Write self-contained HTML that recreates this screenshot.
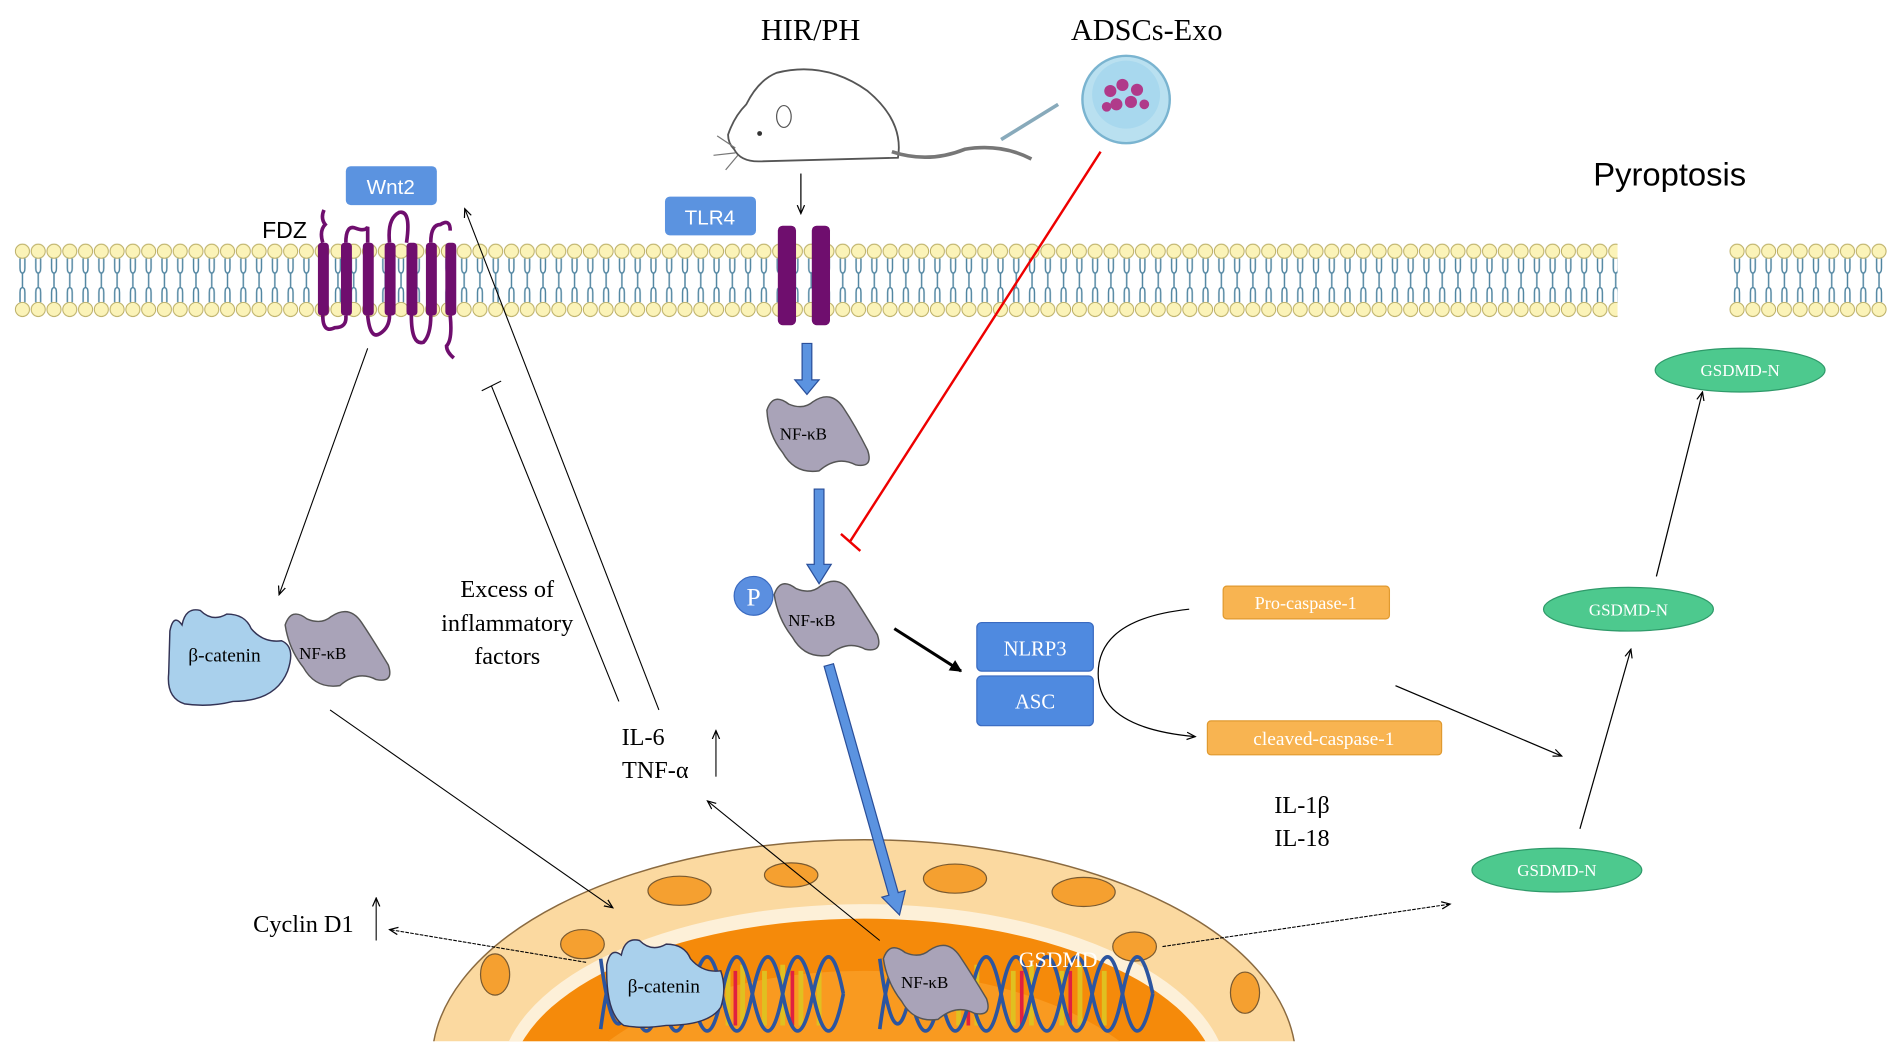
<!DOCTYPE html>
<html><head><meta charset="utf-8"><style>html,body{margin:0;padding:0;background:#fff;overflow:hidden;width:1893px;height:1057px}svg{display:block}</style></head>
<body>
<svg width="1893" height="1057" viewBox="0 0 1560 871" preserveAspectRatio="none" xmlns="http://www.w3.org/2000/svg">
<defs>
<pattern id="mem" x="12" y="198" width="13" height="66" patternUnits="userSpaceOnUse">
<circle cx="6.5" cy="9" r="5.8" fill="#fbf3b8" stroke="#b8ab60" stroke-width="0.8"/>
<circle cx="6.5" cy="57" r="5.8" fill="#fbf3b8" stroke="#b8ab60" stroke-width="0.8"/>
<path d="M4.5,15 v8 q0,4 2,4 q2,0 2,-4 v-8 M4.5,51 v-8 q0,-4 2,-4 q2,0 2,4 v8 M6.5,27 v6 M6.5,39 v-6" fill="none" stroke="#4f84a0" stroke-width="1.2"/>
</pattern>
<pattern id="mem2" x="1425" y="198" width="13" height="66" patternUnits="userSpaceOnUse">
<circle cx="6.5" cy="9" r="5.8" fill="#fbf3b8" stroke="#b8ab60" stroke-width="0.8"/>
<circle cx="6.5" cy="57" r="5.8" fill="#fbf3b8" stroke="#b8ab60" stroke-width="0.8"/>
<path d="M4.5,15 v8 q0,4 2,4 q2,0 2,-4 v-8 M4.5,51 v-8 q0,-4 2,-4 q2,0 2,4 v8 M6.5,27 v6 M6.5,39 v-6" fill="none" stroke="#4f84a0" stroke-width="1.2"/>
</pattern>
<marker id="ah" markerWidth="8" markerHeight="8" refX="7" refY="4" orient="auto" markerUnits="userSpaceOnUse"><path d="M0,1 L7,4 L0,7" fill="none" stroke="#000" stroke-width="1"/></marker>
<marker id="ahb" markerWidth="10" markerHeight="10" refX="9" refY="5" orient="auto" markerUnits="userSpaceOnUse"><path d="M0,0 L10,5 L0,10z" fill="#000"/></marker>
<clipPath id="nclip"><rect x="0" y="0" width="1560" height="858"/></clipPath>
</defs>
<style>text{font-family:"Liberation Serif",serif}.s{font-family:"Liberation Sans",sans-serif}</style>

<rect x="12" y="198" width="1321" height="66" fill="url(#mem)"/>
<rect x="1425" y="198" width="130" height="66" fill="url(#mem2)"/>

<g fill="#6f0e6e">
<rect x="262" y="200" width="9" height="60" rx="3"/><rect x="281" y="200" width="9" height="60" rx="3"/><rect x="299" y="200" width="9" height="60" rx="3"/>
<rect x="317" y="200" width="9" height="60" rx="3"/><rect x="335" y="200" width="9" height="60" rx="3"/><rect x="351" y="200" width="9" height="60" rx="3"/><rect x="367" y="200" width="9" height="60" rx="3"/>
</g>
<path d="M266,200 q-3,-10 2,-15 q-4,-5 -1,-12 M285,200 q0,-15 8,-12 q8,3 10,-1 v13 M303,260 q2,20 10,15 q8,-5 8,-15 M321,200 q-2,-20 8,-25 q10,-2 6,25 M339,260 q0,25 10,22 q6,-6 6,-22 M355,200 q0,-15 8,-15 q8,-5 8,5 M371,260 q2,20 -3,25 q0,5 6,10 M266,260 q0,15 10,10 q10,0 9,-10" fill="none" stroke="#6f0e6e" stroke-width="3"/>
<text x="216" y="196" class="s" font-size="19">FDZ</text>
<rect x="285" y="137" width="75" height="32" rx="4" fill="#5b93e0"/>
<text x="322" y="160" class="s" font-size="17" fill="#fff" text-anchor="middle">Wnt2</text>

<rect x="641" y="186" width="15" height="82" rx="4" fill="#6f0e6e"/>
<rect x="669" y="186" width="15" height="82" rx="4" fill="#6f0e6e"/>
<rect x="548" y="162" width="75" height="32" rx="4" fill="#5b93e0"/>
<text x="585" y="185" class="s" font-size="17" fill="#fff" text-anchor="middle">TLR4</text>

<text x="668" y="33" font-size="25" text-anchor="middle">HIR/PH</text>
<text x="945" y="33" font-size="25" text-anchor="middle">ADSCs-Exo</text>
<text x="1376" y="153" class="s" font-size="27" text-anchor="middle">Pyroptosis</text>

<path d="M640,60 q40,-10 75,15 q30,25 25,55 l-115,3 q-15,0 -20,-10 q-5,-5 -5,-12 q5,-15 15,-25 q10,-20 25,-26z" fill="#fff" stroke="#555" stroke-width="1.5"/>
<path d="M735,125 q30,10 60,-2 q30,-5 55,8" fill="none" stroke="#777" stroke-width="3"/>
<ellipse cx="646" cy="96" rx="6" ry="9" fill="#fff" stroke="#555"/>
<circle cx="626" cy="110" r="2" fill="#333"/>
<path d="M606,122 l-15,-10 M606,126 l-18,2 M608,128 l-10,12" stroke="#777"/>
<circle cx="928" cy="82" r="36" fill="#b9e0f0" stroke="#7ab4d0" stroke-width="2"/>
<circle cx="928" cy="78" r="28" fill="#a8d8ee"/>
<g fill="#b03a8a"><circle cx="915" cy="75" r="5"/><circle cx="925" cy="70" r="5"/><circle cx="937" cy="74" r="5"/><circle cx="920" cy="86" r="5"/><circle cx="932" cy="84" r="5"/><circle cx="943" cy="86" r="4"/><circle cx="912" cy="88" r="4"/></g>
<path d="M825,115 L872,86" stroke="#8ab" stroke-width="3"/>
<path d="M660,143 V176" stroke="#000" marker-end="url(#ah)"/>

<g fill="#5b93e0" stroke="#2a4f9a" stroke-width="1">
<path d="M661,283 h8 v30 h6 l-10,12 l-10,-12 h6z"/>
<path d="M671,403 h8 v62 h6 l-10,16 l-10,-16 h6z"/>
</g>

<path d="M907,125 L700,447 M693,440 L709,454" stroke="#e00" stroke-width="2"/>

<g fill="#a9a3b8" stroke="#555" stroke-width="1.2">
<path d="M632,338 q5,-15 18,-5 q12,5 20,-2 q15,-10 25,5 q10,15 20,35 q5,15 -10,12 q-15,-8 -30,5 q-20,3 -30,-15 q-12,-15 -13,-35z"/>
<path d="M638,490 q5,-15 18,-5 q12,5 20,-2 q15,-10 25,5 q10,15 22,35 q5,15 -10,12 q-15,-8 -30,5 q-20,3 -30,-15 q-12,-15 -15,-35z"/>
<path d="M235,515 q5,-15 18,-5 q12,5 20,-2 q15,-10 25,5 q10,15 22,35 q5,15 -10,12 q-15,-8 -30,5 q-20,3 -30,-15 q-12,-15 -15,-35z"/>
</g>
<text x="662" y="362" font-size="14" text-anchor="middle">NF-κB</text>
<text x="669" y="516" font-size="14" text-anchor="middle">NF-κB</text>
<text x="266" y="543" font-size="14" text-anchor="middle">NF-κB</text>

<circle cx="621" cy="491" r="16" fill="#5b8fe0" stroke="#3a6ac0"/>
<text x="621" y="499" font-size="21" fill="#fff" text-anchor="middle">P</text>

<path d="M140,520 q3,-15 10,-5 q3,-15 15,-12 q10,10 22,3 q15,0 20,12 q10,12 25,10 q12,5 5,25 q-10,25 -45,25 q-20,5 -40,2 q-15,-5 -13,-25z" fill="#a9d0ec" stroke="#335" stroke-width="1.2"/>
<text x="185" y="545" font-size="16" text-anchor="middle">β-catenin</text>

<rect x="805" y="513" width="96" height="40" rx="4" fill="#4f8ae0" stroke="#3a6ac0"/>
<rect x="805" y="557" width="96" height="41" rx="4" fill="#4f8ae0" stroke="#3a6ac0"/>
<text x="853" y="540" font-size="17" fill="#fff" text-anchor="middle">NLRP3</text>
<text x="853" y="584" font-size="17" fill="#fff" text-anchor="middle">ASC</text>
<path d="M737,518 L792,553" stroke="#000" stroke-width="2.5" marker-end="url(#ahb)"/>
<path d="M980,502 Q905,510 905,555 Q905,600 985,607" fill="none" stroke="#000" marker-end="url(#ah)"/>
<rect x="1008" y="483" width="137" height="27" rx="3" fill="#f8b451" stroke="#e09a30"/>
<text x="1076" y="502" font-size="15" fill="#fff" text-anchor="middle">Pro-caspase-1</text>
<rect x="995" y="594" width="193" height="28" rx="3" fill="#f8b451" stroke="#e09a30"/>
<text x="1091" y="614" font-size="16" fill="#fff" text-anchor="middle">cleaved-caspase-1</text>
<path d="M1150,565 L1287,623" stroke="#000" marker-end="url(#ah)"/>
<text x="1073" y="670" font-size="20" text-anchor="middle">IL-1β</text>
<text x="1073" y="697" font-size="20" text-anchor="middle">IL-18</text>

<g fill="#4dc98e" stroke="#2f9a6a"><ellipse cx="1434" cy="305" rx="70" ry="18"/><ellipse cx="1342" cy="502" rx="70" ry="18"/><ellipse cx="1283" cy="717" rx="70" ry="18"/></g>
<g font-size="14" fill="#fff" text-anchor="middle"><text x="1434" y="310">GSDMD-N</text><text x="1342" y="507">GSDMD-N</text><text x="1283" y="722">GSDMD-N</text></g>
<path d="M1302,683 L1344,535" stroke="#000" marker-end="url(#ah)"/>
<path d="M1365,475 L1403,323" stroke="#000" marker-end="url(#ah)"/>

<g clip-path="url(#nclip)">
<ellipse cx="712" cy="875" rx="356" ry="183" fill="#fbd9a0" stroke="#8a6a40" stroke-width="1.2"/>
<ellipse cx="712" cy="890" rx="300" ry="145" fill="#fdf0d8"/>
<ellipse cx="712" cy="895" rx="292" ry="138" fill="#f58a0a"/>
<ellipse cx="712" cy="940" rx="260" ry="140" fill="#f99a20"/>
<g fill="#f5a030" stroke="#7a5a30"><ellipse cx="560" cy="734" rx="26" ry="12"/><ellipse cx="787" cy="724" rx="26" ry="12"/><ellipse cx="893" cy="735" rx="26" ry="12"/><ellipse cx="652" cy="721" rx="22" ry="10"/><ellipse cx="408" cy="803" rx="12" ry="17"/><ellipse cx="1026" cy="818" rx="12" ry="17"/><ellipse cx="480" cy="778" rx="18" ry="12"/><ellipse cx="935" cy="780" rx="18" ry="12"/></g>
<g stroke-width="4"><path d="M600,800 v45 M612,795 v50 M630,800 v45 M645,795 v50 M660,800 v45 M675,800 v45 M790,800 v45 M805,795 v50 M835,800 v45 M850,795 v50 M875,800 v45 M890,795 v50 M910,800 v45" stroke="#e0c020"/></g>
<g stroke-width="3"><path d="M606,800 v45 M653,800 v45 M798,800 v45 M842,800 v45 M882,800 v45" stroke="#e02040"/></g>
<g fill="none" stroke="#2c55a0" stroke-width="3">
<path d="M495,848 q12,-90 25,-29 t25,0 t25,0 t25,0 t25,0 t25,0 t25,0 t25,0"/>
<path d="M495,790 q12,90 25,29 t25,0 t25,0 t25,0 t25,0 t25,0 t25,0 t25,0"/>
<path d="M725,848 q12,-90 25,-29 t25,0 t25,0 t25,0 t25,0 t25,0 t25,0 t25,0 t25,0"/>
<path d="M725,790 q12,90 25,29 t25,0 t25,0 t25,0 t25,0 t25,0 t25,0 t25,0 t25,0"/>
</g>
</g>
<path d="M500,795 q3,-15 12,-8 q3,-15 15,-12 q10,10 22,3 q15,0 20,12 q10,12 25,10 q5,15 0,30 q-10,15 -45,15 q-20,3 -35,0 q-15,-10 -14,-50z" fill="#a9d0ec" stroke="#335" stroke-width="1.2"/>
<text x="547" y="818" font-size="16" text-anchor="middle">β-catenin</text>
<path d="M728,790 q5,-15 18,-5 q12,5 20,-2 q15,-10 25,5 q10,15 22,35 q5,15 -10,12 q-15,-8 -30,5 q-20,3 -30,-15 q-12,-15 -15,-35z" fill="#a9a3b8" stroke="#555" stroke-width="1.2"/>
<text x="762" y="814" font-size="14" text-anchor="middle">NF-κB</text>
<text x="872" y="797" font-size="18" fill="#fff" text-anchor="middle">GSDMD</text>

<g fill="#5b93e0" stroke="#2a4f9a" stroke-width="1" transform="rotate(-15.8 683 548)"><path d="M679,548 h8 v196 h6 l-10,18 l-10,-18 h6z"/></g>

<g stroke="#000" stroke-width="0.9" fill="none">
<path d="M303,287 L230,490" marker-end="url(#ah)"/>
<path d="M272,585 L505,748" marker-end="url(#ah)"/>
<path d="M543,585 L383,172" marker-end="url(#ah)"/>
<path d="M510,578 L405,318 M397,322 L413,314"/>
<path d="M725,775 L583,660" marker-end="url(#ah)"/>
<path d="M483,793 L321,766" stroke-dasharray="3,1" marker-end="url(#ah)"/>
<path d="M958,780 L1195,745" stroke-dasharray="3,1" marker-end="url(#ah)"/>
<path d="M310,775 V740" marker-end="url(#ah)"/>
<path d="M590,640 V602" marker-end="url(#ah)"/>
</g>
<text x="250" y="768" font-size="20" text-anchor="middle">Cyclin D1</text>
<g font-size="20" text-anchor="middle"><text x="418" y="492">Excess of</text><text x="418" y="520">inflammatory</text><text x="418" y="547">factors</text></g>
<text x="530" y="614" font-size="20" text-anchor="middle">IL-6</text>
<text x="540" y="641" font-size="20" text-anchor="middle">TNF-α</text>
</svg>
</body></html>
